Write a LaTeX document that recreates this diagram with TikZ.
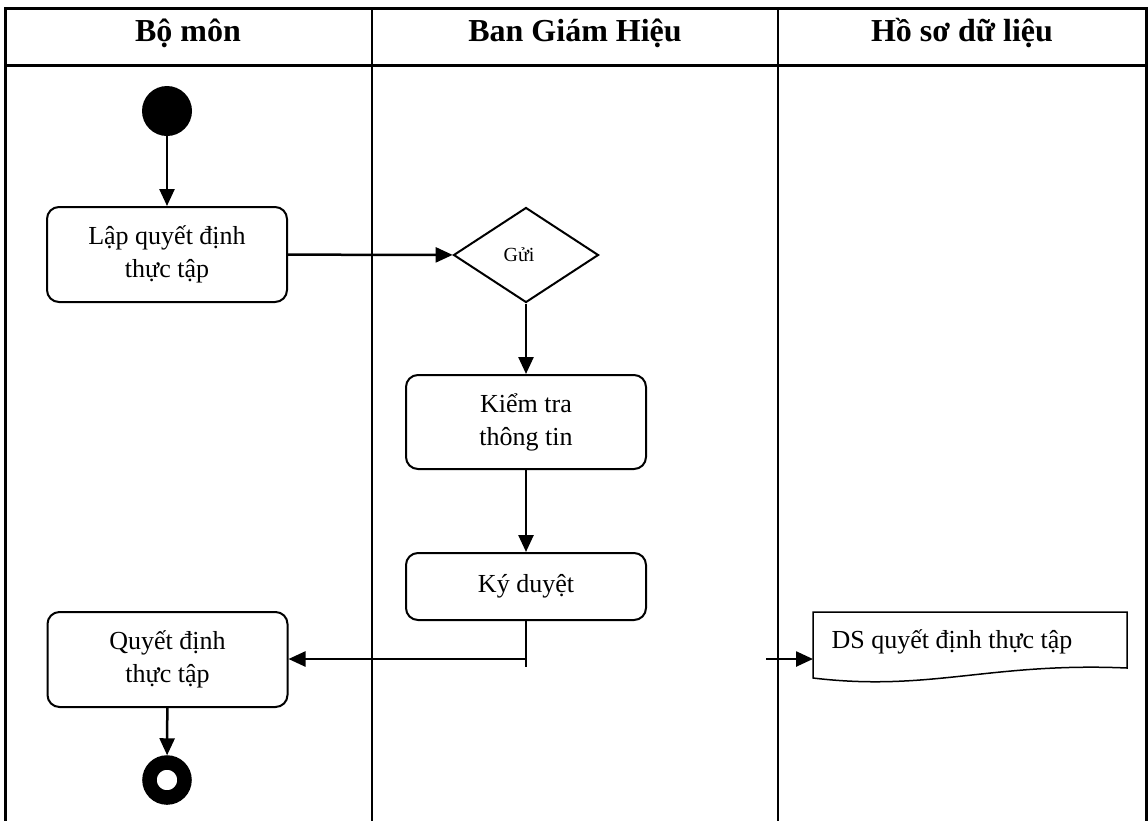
\documentclass[tikz,border=0pt]{standalone}
\usepackage{fontspec}
\setmainfont{Liberation Serif}
\usetikzlibrary{arrows.meta,shapes.geometric}
\tikzset{
  >={Triangle[length=17pt,width=15pt]},
  frame/.style={line width=3pt},
  lane/.style={line width=2pt},
  lanetitle/.style={font=\fontsize{32}{38}\selectfont\bfseries},
  act/.style={draw,line width=2pt,rounded corners=12pt,minimum width=240pt,
    minimum height=95pt,align=center,font=\fontsize{26}{33}\selectfont},
  flow/.style={->,line width=2.5pt}
}

\begin{document}
\begin{tikzpicture}[x=1pt,y=-1pt]
\useasboundingbox (0,0) rectangle (1148,820);
% lanes
\draw[frame] (5,822) -- (5,8) -- (1146,8) -- (1146,822);
\draw[frame] (5,65) -- (1146,65);
\draw[lane] (372,8) -- (372,822);
\draw[lane] (778,8) -- (778,822);
\node[lanetitle] (bomon) at (188,33) {Bộ môn};
\node[lanetitle] (bgh) at (575,33) {Ban Giám Hiệu};
\node[lanetitle] (hoso) at (962,33) {Hồ sơ dữ liệu};

% activities
\node[circle,fill=black,minimum size=50pt,inner sep=0pt] (start) at (167,111) {};
\node[act] (lap) at (167,254.5) {Lập quyết định\\thực tập};
\node[diamond,draw,line width=2pt,minimum width=145pt,minimum height=95pt,
  inner sep=0pt,font=\fontsize{20}{24}\selectfont] (gui) at (526,255) {Gửi\hspace*{14pt}};
\node[act,minimum height=94pt] (kiemtra) at (526,422) {Kiểm tra\\thông tin};
\node[act,minimum height=67pt] (kyduyet) at (526,586.5) {Ký duyệt};
\node[act] (quyetdinh) at (167.5,659.5) {Quyết định\\thực tập};
\node[circle,draw,line width=14.5pt,minimum size=35pt,inner sep=0pt] (stop) at (167,780) {};

% document
\draw[line width=1.5pt] (813,612) -- (1127,612) -- (1127,668)
  .. controls (990,662) and (930,692) .. (813,678) -- cycle;
\node[anchor=west,font=\fontsize{26}{33}\selectfont] (dsqd) at (828,642) {DS quyết định thực tập};
\coordinate (dsin) at (813,659);
\coordinate (dsfrom) at (766,659);

% flows
\draw[flow] (start) -- (lap);
\draw[flow] (lap) -- (gui);
\draw[flow] (gui) -- (kiemtra);
\draw[flow] (kiemtra) -- (kyduyet);
\coordinate (kyjoin) at (526,659);
\draw[line width=2pt] (kyduyet.south) -- ++(0,46);
\draw[flow] (kyjoin) -- (quyetdinh.east |- kyjoin);
\draw[flow] (quyetdinh) -- (stop);
\draw[flow] (dsfrom) -- (dsin);
\end{tikzpicture}
\end{document}
